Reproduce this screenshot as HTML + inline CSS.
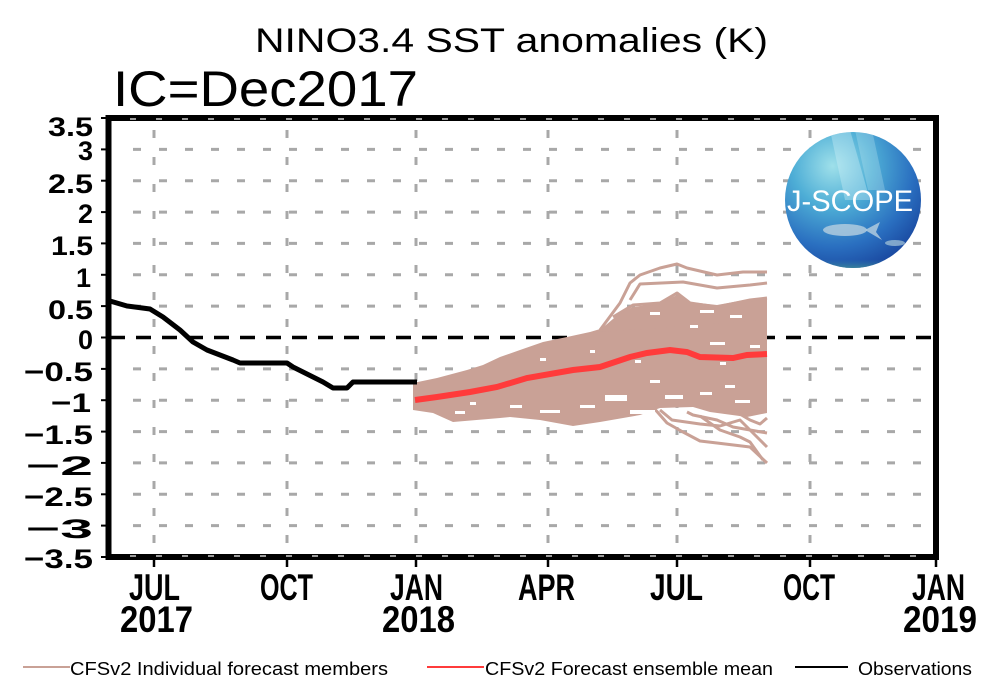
<!DOCTYPE html>
<html><head><meta charset="utf-8"><style>
html,body{margin:0;padding:0;background:#fff;}
svg{display:block;}
text{font-family:"Liberation Sans",sans-serif;}
</style></head><body>
<svg width="1000" height="697" viewBox="0 0 1000 697" xmlns="http://www.w3.org/2000/svg">
<defs>
<radialGradient id="lg" cx="0.35" cy="0.25" r="0.85">
<stop offset="0" stop-color="#9fe0ea"/>
<stop offset="0.35" stop-color="#4eaed6"/>
<stop offset="0.7" stop-color="#2a6fc0"/>
<stop offset="1" stop-color="#163f98"/>
</radialGradient>
<linearGradient id="lb" x1="0" y1="0" x2="0" y2="1">
<stop offset="0.7" stop-color="#3a8aa8" stop-opacity="0"/>
<stop offset="1" stop-color="#4aa090" stop-opacity="0.8"/>
</linearGradient>
<clipPath id="cc"><circle cx="853" cy="200" r="68"/></clipPath>
</defs>

<!-- title -->
<text x="255" y="52" font-size="34" textLength="513" lengthAdjust="spacingAndGlyphs">NINO3.4 SST anomalies (K)</text>
<text x="113" y="106" font-size="50" textLength="305" lengthAdjust="spacingAndGlyphs">IC=Dec2017</text>

<!-- horizontal grid -->
<g stroke="#a8a8a8" stroke-width="3" stroke-dasharray="8 18">
<line x1="133" y1="149.4" x2="933" y2="149.4"/>
<line x1="133" y1="180.7" x2="933" y2="180.7"/>
<line x1="133" y1="212.1" x2="933" y2="212.1"/>
<line x1="133" y1="243.4" x2="933" y2="243.4"/>
<line x1="133" y1="274.8" x2="933" y2="274.8"/>
<line x1="133" y1="306.1" x2="933" y2="306.1"/>
<line x1="133" y1="368.9" x2="933" y2="368.9"/>
<line x1="133" y1="400.2" x2="933" y2="400.2"/>
<line x1="133" y1="431.6" x2="933" y2="431.6"/>
<line x1="133" y1="462.9" x2="933" y2="462.9"/>
<line x1="133" y1="494.3" x2="933" y2="494.3"/>
<line x1="133" y1="525.6" x2="933" y2="525.6"/>
</g>
<!-- vertical grid -->
<g stroke="#a8a8a8" stroke-width="3" stroke-dasharray="8 19">
<line x1="154" y1="130" x2="154" y2="552"/>
<line x1="287" y1="130" x2="287" y2="552"/>
<line x1="416" y1="130" x2="416" y2="552"/>
<line x1="548" y1="130" x2="548" y2="552"/>
<line x1="677" y1="130" x2="677" y2="552"/>
<line x1="810" y1="130" x2="810" y2="552"/>
</g>
<!-- zero line -->
<line x1="110" y1="337.5" x2="934" y2="337.5" stroke="#000" stroke-width="3.5" stroke-dasharray="15 11"/>

<!-- ensemble members -->
<g fill="#c9a196" stroke="none">
<polygon points="413,383 437,378 467,370 483,365 500,357 520,350 543,342 567,337 590,332 607,327 633,322 667,320 767,318 767,413 747,417 710,412 693,407 660,408 640,415 600,422 573,426 540,420 510,417 500,418 453,422 433,413 413,410"/>
<polygon points="600,330 620,313 633,307 660,303 677,295 690,302 717,305 750,299 767,298 767,320 600,332"/>
</g>
<g fill="none" stroke="#c9a196" stroke-width="3" stroke-linejoin="round">
<polyline points="600,330 620,303 630,283 640,275 660,268 677,264 687,268 717,275 743,272 767,272"/>
<polyline points="630,300 640,284 683,282 717,288 750,285 767,283"/>
<polyline points="613,317 633,305 660,303 677,293 690,303 717,307 750,300 767,298"/>
<polyline points="653,407 667,423 683,432 700,441 717,443 750,447 767,463"/>
<polyline points="687,412 693,415 717,420 733,427 750,430 767,433"/>
<polyline points="720,410 733,410 750,420 760,424 767,418"/>
<polyline points="700,416 720,430 740,437 750,442 763,460"/>
<polyline points="660,410 672,420 700,424 720,426 740,420 760,440 767,447"/>
</g>
<!-- white speckles -->
<g fill="#fff">
<rect x="455" y="411" width="10" height="3"/>
<rect x="470" y="402" width="6" height="3"/>
<rect x="510" y="405" width="12" height="3"/>
<rect x="540" y="410" width="20" height="3"/>
<rect x="580" y="405" width="15" height="3"/>
<rect x="605" y="395" width="22" height="6"/>
<rect x="630" y="410" width="25" height="4"/>
<rect x="650" y="380" width="10" height="3"/>
<rect x="665" y="395" width="18" height="4"/>
<rect x="700" y="392" width="12" height="3"/>
<rect x="725" y="385" width="10" height="3"/>
<rect x="735" y="400" width="15" height="3"/>
<rect x="540" y="358" width="6" height="3"/>
<rect x="590" y="350" width="5" height="3"/>
<rect x="635" y="360" width="6" height="3"/>
<rect x="710" y="342" width="15" height="3"/>
<rect x="750" y="345" width="10" height="3"/>
<rect x="720" y="362" width="6" height="3"/>
<rect x="690" y="325" width="8" height="3"/>
<rect x="730" y="315" width="12" height="3"/>
<rect x="650" y="312" width="10" height="3"/>
<rect x="700" y="310" width="14" height="3"/>
</g>

<!-- ensemble mean -->
<polyline fill="none" stroke="#ff3b3b" stroke-width="6" points="415,400 437,397 470,392 497,387 527,378 573,370 600,367 630,357 647,353 670,350 687,352 700,357 733,358 747,355 767,354"/>

<!-- observations -->
<polyline fill="none" stroke="#000" stroke-width="5" stroke-linejoin="round" points="110,301 127,306 150,309 163,317 180,330 193,342 207,350 233,360 240,363 287,363 293,367 323,382 333,388 347,388 353,382 417,382"/>

<!-- frame -->
<rect x="108.5" y="118" width="827.5" height="439" fill="none" stroke="#000" stroke-width="6"/>
<g stroke="#9a9a9a" stroke-width="2" stroke-dasharray="6 20">
<line x1="130" y1="119" x2="934" y2="119"/>
<line x1="130" y1="556" x2="934" y2="556"/>
</g>
<!-- y ticks -->
<g stroke="#000" stroke-width="2">
<line x1="101" y1="118" x2="108" y2="118"/>
<line x1="101" y1="149.4" x2="108" y2="149.4"/>
<line x1="101" y1="180.7" x2="108" y2="180.7"/>
<line x1="101" y1="212.1" x2="108" y2="212.1"/>
<line x1="101" y1="243.4" x2="108" y2="243.4"/>
<line x1="101" y1="274.8" x2="108" y2="274.8"/>
<line x1="101" y1="306.1" x2="108" y2="306.1"/>
<line x1="101" y1="337.5" x2="108" y2="337.5"/>
<line x1="101" y1="368.9" x2="108" y2="368.9"/>
<line x1="101" y1="400.2" x2="108" y2="400.2"/>
<line x1="101" y1="431.6" x2="108" y2="431.6"/>
<line x1="101" y1="462.9" x2="108" y2="462.9"/>
<line x1="101" y1="494.3" x2="108" y2="494.3"/>
<line x1="101" y1="525.6" x2="108" y2="525.6"/>
<line x1="101" y1="557" x2="108" y2="557"/>
</g>
<!-- x ticks -->
<g stroke="#000" stroke-width="2.5">
<line x1="154" y1="557" x2="154" y2="567"/>
<line x1="287" y1="557" x2="287" y2="567"/>
<line x1="416" y1="557" x2="416" y2="567"/>
<line x1="548" y1="557" x2="548" y2="567"/>
<line x1="677" y1="557" x2="677" y2="567"/>
<line x1="810" y1="557" x2="810" y2="567"/>
<line x1="936" y1="557" x2="936" y2="567"/>
</g>

<!-- y labels -->
<g font-size="27" font-weight="bold" text-anchor="end">
<text x="93" y="136" textLength="45" lengthAdjust="spacingAndGlyphs">3.5</text>
<text x="93" y="160">3</text>
<text x="93" y="193" textLength="45" lengthAdjust="spacingAndGlyphs">2.5</text>
<text x="93" y="223">2</text>
<text x="93" y="255" textLength="42" lengthAdjust="spacingAndGlyphs">1.5</text>
<text x="91" y="287">1</text>
<text x="93" y="319" textLength="45" lengthAdjust="spacingAndGlyphs">0.5</text>
<text x="93" y="349">0</text>
<text x="93" y="381" textLength="69" lengthAdjust="spacingAndGlyphs">−0.5</text>
<text x="91" y="412" textLength="40" lengthAdjust="spacingAndGlyphs">−1</text>
<text x="93" y="444" textLength="69" lengthAdjust="spacingAndGlyphs">−1.5</text>
<text x="93" y="475" textLength="67" lengthAdjust="spacingAndGlyphs">−2</text>
<text x="93" y="506" textLength="69" lengthAdjust="spacingAndGlyphs">−2.5</text>
<text x="93" y="538" textLength="67" lengthAdjust="spacingAndGlyphs">−3</text>
<text x="93" y="568" textLength="69" lengthAdjust="spacingAndGlyphs">−3.5</text>
</g>

<!-- x labels -->
<g font-size="37" font-weight="bold">
<text x="129" y="600" textLength="51" lengthAdjust="spacingAndGlyphs">JUL</text>
<text x="120" y="632" textLength="73" lengthAdjust="spacingAndGlyphs">2017</text>
<text x="260" y="600" textLength="53" lengthAdjust="spacingAndGlyphs">OCT</text>
<text x="390" y="600" textLength="53" lengthAdjust="spacingAndGlyphs">JAN</text>
<text x="382" y="632" textLength="73" lengthAdjust="spacingAndGlyphs">2018</text>
<text x="518" y="600" textLength="57" lengthAdjust="spacingAndGlyphs">APR</text>
<text x="650" y="600" textLength="53" lengthAdjust="spacingAndGlyphs">JUL</text>
<text x="783" y="600" textLength="52" lengthAdjust="spacingAndGlyphs">OCT</text>
<text x="912" y="600" textLength="53" lengthAdjust="spacingAndGlyphs">JAN</text>
<text x="903" y="632" textLength="74" lengthAdjust="spacingAndGlyphs">2019</text>
</g>

<!-- legend -->
<line x1="23" y1="667" x2="70" y2="667" stroke="#c9a196" stroke-width="2"/>
<text x="70" y="675" font-size="18" textLength="318" lengthAdjust="spacingAndGlyphs">CFSv2 Individual forecast members</text>
<line x1="427" y1="667" x2="484" y2="667" stroke="#ff3b3b" stroke-width="2"/>
<text x="485" y="675" font-size="18" textLength="288" lengthAdjust="spacingAndGlyphs">CFSv2 Forecast ensemble mean</text>
<line x1="795" y1="667" x2="848" y2="667" stroke="#000" stroke-width="2"/>
<text x="858" y="675" font-size="18" textLength="114" lengthAdjust="spacingAndGlyphs">Observations</text>

<!-- logo -->
<circle cx="853" cy="200" r="68" fill="url(#lg)"/>
<g clip-path="url(#cc)">
<polygon points="830,130 850,130 870,200 845,200" fill="#d8f4f8" opacity="0.35"/>
<polygon points="855,130 872,130 885,190 868,190" fill="#d8f4f8" opacity="0.25"/>
<rect x="785" y="235" width="140" height="35" fill="url(#lb)"/>
<ellipse cx="845" cy="230" rx="22" ry="6" fill="#b8d0e0" opacity="0.8"/>
<polygon points="865,230 880,222 876,232 882,240" fill="#b8d0e0" opacity="0.8"/>
<ellipse cx="895" cy="243" rx="10" ry="3" fill="#a8c8d8" opacity="0.7"/>
</g>
<text x="787" y="211" font-size="30" fill="#fff" textLength="126" lengthAdjust="spacingAndGlyphs">J-SCOPE</text>
</svg>
</body></html>
